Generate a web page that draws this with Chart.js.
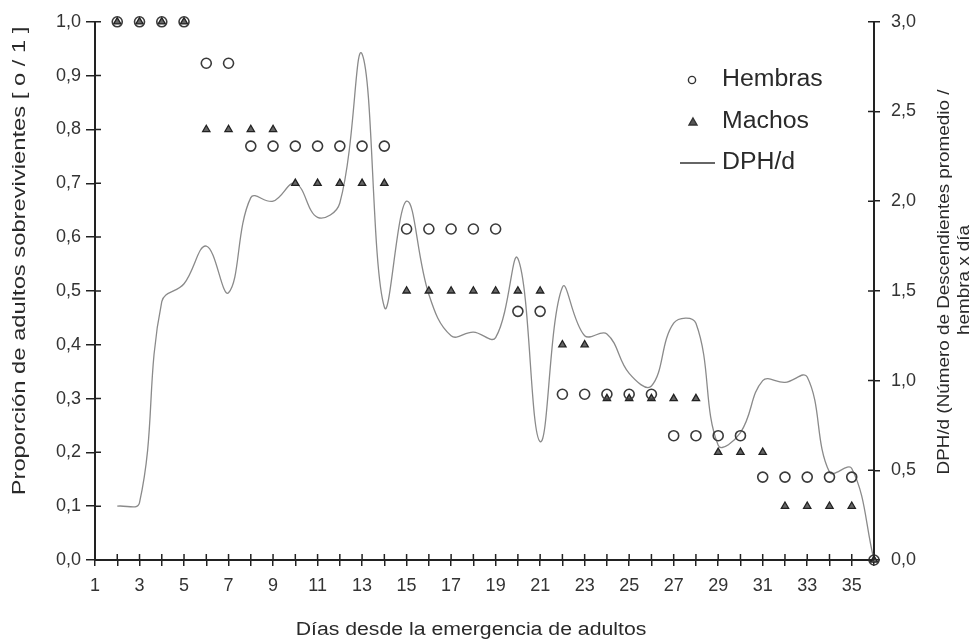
<!DOCTYPE html>
<html>
<head>
<meta charset="utf-8">
<script src="https://cdn.jsdelivr.net/npm/chart.js@4.4.1/dist/chart.umd.min.js"></script>
<style>
html,body{margin:0;padding:0;background:#fff;}
#wrap{width:978px;height:642px;}
</style>
</head>
<body>
<div id="wrap"><canvas id="grafico" width="978" height="642"></canvas></div>
<script>
// 0. datos (dias 2 a 36)
let dias = [2,3,4,5,6,7,8,9,10,11,12,13,14,15,16,17,18,19,20,21,22,23,24,25,26,27,28,29,30,31,32,33,34,35,36];
let hembras = [1,1,1,1,0.923,0.923,0.769,0.769,0.769,0.769,0.769,0.769,0.769,0.615,0.615,0.615,0.615,0.615,0.462,0.462,
  0.308,0.308,0.308,0.308,0.308,0.231,0.231,0.231,0.231,0.154,0.154,0.154,0.154,0.154,0];
let machos = [1,1,1,1,0.8,0.8,0.8,0.8,0.7,0.7,0.7,0.7,0.7,0.5,0.5,0.5,0.5,0.5,0.5,0.5,
  0.4,0.4,0.3,0.3,0.3,0.3,0.3,0.2,0.2,0.2,0.1,0.1,0.1,0.1,0];
let dph = [0.30,0.32,1.44,1.54,1.75,1.49,2.02,2.00,2.10,1.91,1.99,2.82,1.41,2.00,1.48,1.25,1.27,1.24,1.68,0.66,
  1.52,1.25,1.26,1.04,0.97,1.32,1.32,0.64,0.71,1.00,0.99,1.02,0.49,0.51,0];
let nombres = ['Hembras','Machos','DPH/d'];
let tituloX = 'Días desde la emergencia de adultos';
let tituloIzq = 'Proporción de adultos sobrevivientes [ o / 1 ]';
let tituloDer = ['DPH/d (Número de Descendientes promedio /', 'hembra x día'];

const FUENTE = '"Liberation Sans", Arial, sans-serif';

// 1. funciones de ayuda
let coma = function(v){ return Number(v).toFixed(1).replace('.', ','); };
let puntos = function(arr){ return arr.map((v, i) => ({x: dias[i], y: v})); };

// texto estirado (el original usa letras mas anchas que Arial)
let texto = function(ctx, t, x, y, rot, size, estirar){
  ctx.save();
  ctx.translate(x, y);
  ctx.rotate(rot);
  ctx.scale(estirar, 1);
  ctx.font = size + 'px ' + FUENTE;
  ctx.fillStyle = '#2a2a2a';
  ctx.textAlign = 'center';
  ctx.textBaseline = 'middle';
  ctx.fillText(t, 0, 0);
  ctx.restore();
};

// 2. marcas que cruzan los ejes hacia dentro
let marcasInternas = {
  id: 'marcasInternas',
  afterDraw(chart){
    let ctx = chart.ctx, a = chart.chartArea;
    let sx = chart.scales.x, sy = chart.scales.y, sy2 = chart.scales.y2;
    ctx.save();
    ctx.strokeStyle = '#222';
    ctx.lineWidth = 1.5;
    ctx.beginPath();
    sx.ticks.forEach(t => { let p = sx.getPixelForValue(t.value); ctx.moveTo(p, a.bottom); ctx.lineTo(p, a.bottom - 6); });
    sy.ticks.forEach(t => { let p = sy.getPixelForValue(t.value); ctx.moveTo(a.left, p); ctx.lineTo(a.left + 6, p); });
    sy2.ticks.forEach(t => { let p = sy2.getPixelForValue(t.value); ctx.moveTo(a.right, p); ctx.lineTo(a.right - 6, p); });
    ctx.stroke();
    ctx.restore();
  }
};

// 3. titulos de ejes y leyenda
let titulosYLeyenda = {
  id: 'titulosYLeyenda',
  afterDraw(chart){
    let ctx = chart.ctx;
    texto(ctx, tituloX, 471, 630, 0, 18, 1.18);
    texto(ctx, tituloIzq, 20, 261, -Math.PI / 2, 19, 1.25);
    texto(ctx, tituloDer[0], 944, 282, -Math.PI / 2, 17, 1.11);
    texto(ctx, tituloDer[1], 964, 280, -Math.PI / 2, 17, 1.11);

    // leyenda
    let ds = chart.data.datasets;
    ctx.save();
    ctx.strokeStyle = '#333';
    ctx.fillStyle = '#555';
    ctx.lineWidth = 1.4;
    ctx.beginPath();
    ctx.arc(692, 80, 3.6, 0, Math.PI * 2);
    ctx.stroke();
    ctx.beginPath();
    ctx.moveTo(693, 118); ctx.lineTo(697, 125); ctx.lineTo(689, 125); ctx.closePath();
    ctx.fill(); ctx.stroke();
    ctx.beginPath();
    ctx.moveTo(680, 163); ctx.lineTo(715, 163);
    ctx.stroke();
    ctx.restore();
    ctx.save();
    ctx.font = '23px ' + FUENTE;
    ctx.fillStyle = '#2a2a2a';
    ctx.textBaseline = 'middle';
    [80, 122, 163].forEach((y, i) => {
      ctx.save();
      ctx.translate(722, y);
      ctx.scale(1.08, 1);
      ctx.fillText(ds[i].label, 0, 0);
      ctx.restore();
    });
    ctx.restore();
  }
};

// 4. grafico
let ctx = document.getElementById('grafico');
let grafico = new Chart(ctx, {
  type: 'scatter',
  data: {
    datasets: [{
      label: nombres[0],
      data: puntos(hembras),
      yAxisID: 'y',
      pointStyle: 'circle',
      pointRadius: 5,
      pointBorderWidth: 1.6,
      pointBorderColor: '#3a3a3a',
      pointBackgroundColor: 'rgba(0,0,0,0)',
      showLine: false,
      clip: false,
      order: 1
    }, {
      label: nombres[1],
      data: puntos(machos),
      yAxisID: 'y',
      pointStyle: 'triangle',
      pointRadius: 4.2,
      pointBorderWidth: 1.3,
      pointBorderColor: '#222',
      pointBackgroundColor: '#666',
      showLine: false,
      clip: false,
      order: 2
    }, {
      label: nombres[2],
      data: puntos(dph),
      yAxisID: 'y2',
      showLine: true,
      tension: 0.4,
      borderColor: '#8a8a8a',
      borderWidth: 1.3,
      pointRadius: 0,
      clip: false,
      order: 3
    }]
  },
  options: {
    responsive: false,
    animation: false,
    devicePixelRatio: 1,
    layout: { padding: { top: 21, left: 0, right: 0, bottom: 0 } },
    plugins: {
      legend: { display: false },
      tooltip: { enabled: false }
    },
    scales: {
      x: {
        type: 'linear',
        min: 1,
        max: 36,
        afterFit: function(s){ s.height = 82; },
        border: { color: '#222', width: 2 },
        grid: { drawOnChartArea: false, tickLength: 6, color: '#222', lineWidth: 1.5 },
        ticks: {
          stepSize: 1,
          autoSkip: false,
          maxRotation: 0,
          padding: 9,
          color: '#333',
          font: { family: FUENTE, size: 18 },
          callback: function(v){ return (v % 2 === 1 && v < 36) ? String(v) : ''; }
        }
      },
      y: {
        position: 'left',
        min: 0,
        max: 1,
        afterFit: function(s){ s.width = 95; },
        border: { color: '#222', width: 2 },
        grid: { drawOnChartArea: false, tickLength: 9, color: '#222', lineWidth: 1.5 },
        ticks: { stepSize: 0.1, padding: 5, color: '#333', font: { family: FUENTE, size: 18 }, callback: coma }
      },
      y2: {
        position: 'right',
        min: 0,
        max: 3,
        afterFit: function(s){ s.width = 104; },
        border: { color: '#222', width: 2 },
        grid: { drawOnChartArea: false, tickLength: 6, color: '#222', lineWidth: 1.5 },
        ticks: { stepSize: 0.5, padding: 11, color: '#333', font: { family: FUENTE, size: 18 }, callback: coma }
      }
    }
  },
  plugins: [marcasInternas, titulosYLeyenda]
});
</script>
</body>
</html>
